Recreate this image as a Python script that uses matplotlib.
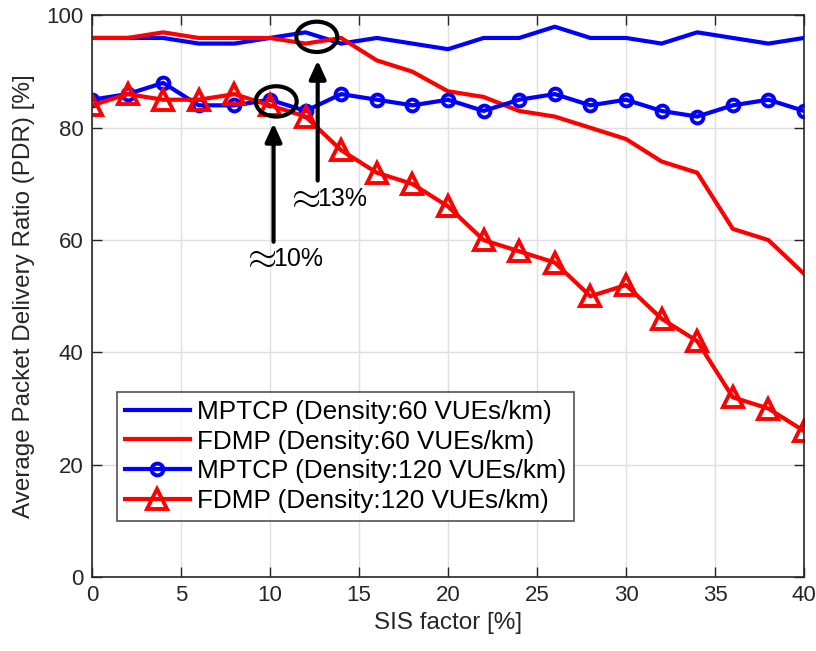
import matplotlib
matplotlib.use("Agg")
import matplotlib.pyplot as plt
from matplotlib.patches import Ellipse

plt.rcParams['font.family'] = ['Liberation Sans', 'DejaVu Sans']

# SIS factor [%]
sis = [0, 2, 4, 6, 8, 10, 12, 14, 16, 18, 20, 22, 24, 26, 28, 30, 32, 34, 36, 38, 40]

# Average PDR [%]
mptcp_60 = [96, 96, 96, 95, 95, 96, 97, 95, 96, 95, 94, 96, 96, 98, 96, 96, 95, 97, 96, 95, 96]
fdmp_60 = [96, 96, 97, 96, 96, 96, 95, 96, 92, 90, 86.5, 85.5, 83, 82, 80, 78, 74, 72, 62, 60, 54]
mptcp_120 = [85, 86, 88, 84, 84, 85, 83, 86, 85, 84, 85, 83, 85, 86, 84, 85, 83, 82, 84, 85, 83]
fdmp_120 = [84, 86, 85, 85, 86, 84, 82, 76, 72, 70, 66, 60, 58, 56, 50, 52, 46, 42, 32, 30, 26]

labels = ["MPTCP (Density:60 VUEs/km)",
          "FDMP (Density:60 VUEs/km)",
          "MPTCP (Density:120 VUEs/km)",
          "FDMP (Density:120 VUEs/km)"]

fig = plt.figure(figsize=(8.16, 6.51), dpi=100)
ax = fig.add_axes([0.1127, 0.1137, 0.8726, 0.8625])

lw = 3.0
ax.plot(sis, mptcp_60, color=(0, 0, 1), lw=lw, label=labels[0])
ax.plot(sis, fdmp_60, color=(1, 0, 0), lw=lw, label=labels[1])
ax.plot(sis, mptcp_120, color=(0, 0, 1), lw=lw, marker='o', ms=8.5,
        mfc='none', mew=2.8, label=labels[2])
ax.plot(sis, fdmp_120, color=(1, 0, 0), lw=lw, marker='^', ms=14.5,
        mfc='none', mew=2.8, label=labels[3])

# highlight the crossover points
for cx, cy in [(10.35, 84.7), (12.63, 96.2)]:
    ax.add_patch(Ellipse((cx, cy), 2.3, 5.4, fill=False, ec='black', lw=3.0, zorder=5))

arrow = dict(arrowstyle='-|>,head_length=1.1,head_width=0.5', color='black', lw=3.0,
             shrinkA=0, shrinkB=0)
ax.annotate('', xy=(10.2, 80.8), xytext=(10.2, 59.7), arrowprops=arrow, zorder=6)
ax.annotate('', xy=(12.68, 92.0), xytext=(12.68, 70.6), arrowprops=arrow, zorder=6)

# "approximately" labels: a large approx sign followed by the percentage
for ax_x, num_x, y, txt in [(9.35, 10.15, 56.6, '10%'), (11.83, 12.67, 67.3, '13%')]:
    ax.text(ax_x, y + 0.45, r'$\approx$', fontsize=27, ha='center', va='center',
            color='black', math_fontfamily='cm')
    ax.text(num_x, y, txt, fontsize=18, ha='left', va='center', color='black')

ax.set_xlim(0, 40)
ax.set_ylim(0, 100)
ax.set_xticks(range(0, 41, 5))
ax.set_yticks(range(0, 101, 20))
ax.tick_params(direction='in', length=7, width=1, labelsize=16, colors='#262626',
               top=True, right=True, pad=6)
ax.grid(True, color='#dfdfdf', lw=1)
ax.set_axisbelow(True)
for s in ax.spines.values():
    s.set_color('#262626')
    s.set_linewidth(1.2)

ax.set_xlabel('SIS factor [%]', fontsize=17.5, color='#262626', labelpad=4)
ax.set_ylabel('Average Packet Delivery Ratio (PDR) [%]', fontsize=17.5, color='#262626', labelpad=8)

leg = ax.legend(loc='upper left', bbox_to_anchor=(0.035, 0.3295), borderaxespad=0,
                fontsize=18.8, handlelength=2.5, handletextpad=0.25, labelspacing=0.22,
                borderpad=0.3, frameon=True, fancybox=False, edgecolor='#262626')
leg.get_frame().set_linewidth(1.2)

fig.savefig('out.png', dpi=100)
